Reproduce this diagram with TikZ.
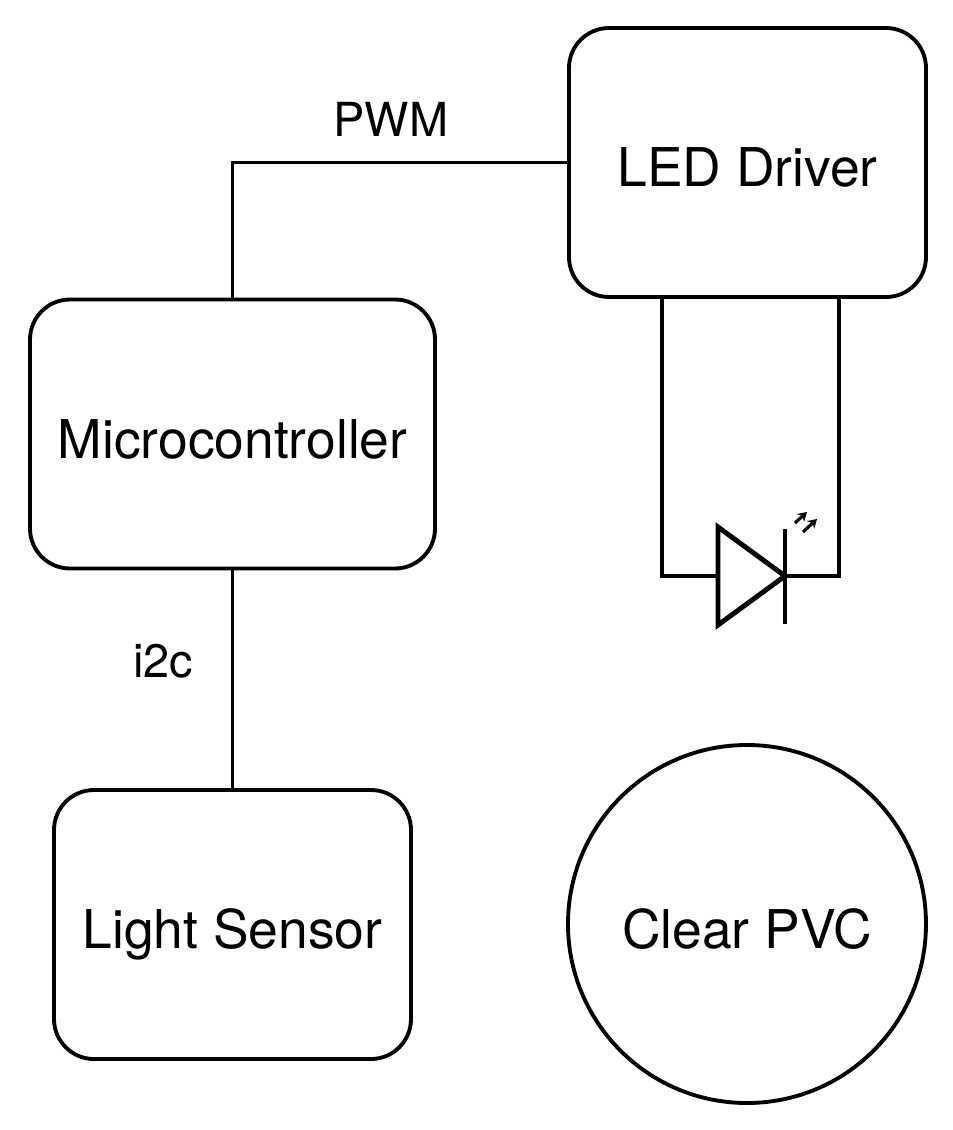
\documentclass[tikz,border=0pt]{standalone}
\usepackage{fontspec}
\setmainfont{TeX Gyre Heros}
\usepackage{tikz}
\usetikzlibrary{arrows.meta}

\begin{document}
\begin{tikzpicture}
[>=Stealth,line width=2.2pt,
block/.style={draw,rounded corners=0.8cm,minimum width=7.14cm,minimum height=5.38cm,text height=0.96cm,text depth=0pt,inner sep=0pt,font=\fontsize{30.4}{36}\selectfont},
tank/.style={draw,circle,minimum size=7.16cm,text height=0.96cm,text depth=0pt,inner sep=0pt,font=\fontsize{30.4}{36}\selectfont},
wire/.style={line width=2.2pt},
sym/.style={line width=2.8pt},
ray/.style={->,line width=1.8pt,>={Stealth[length=5pt,width=6pt]}},
tag/.style={font=\fontsize{26.7}{32}\selectfont,inner sep=0pt},]

\useasboundingbox (0,0) rectangle (19.06,-22.6);

\node (drv) at (14.95,-3.25)[block]{LED Driver};
\node (mcu) at (4.65,-8.68)[block,minimum width=8.1cm]{Microcontroller};
\node (sen) at (4.65,-18.49)[block]{Light Sensor};
\node (pvc) at (14.94,-18.48)[tank]{Clear PVC};

\node (pwm) at (7.82,-2.39)[tag]{PWM};
\node (iic) at (3.26,-13.23)[tag]{i2c};

\coordinate (an) at (14.36,-11.52);
\coordinate (ca) at (15.70,-11.52);

\draw[wire] (mcu.north) |- (drv.west);
\draw[wire] (mcu.south) -- (sen.north);
\draw[wire] ([xshift=-1.71cm]drv.south) |- (an);
\draw[wire] ([xshift=1.83cm]drv.south) |- (ca);

%LED
\draw[sym,line join=miter] (14.36,-10.54) -- (ca) -- (14.36,-12.50) -- cycle;
\draw[sym] (15.70,-10.58) -- (15.70,-12.48);
\draw[ray] (15.90,-10.46) -- (16.14,-10.24);
\draw[ray] (16.06,-10.64) -- (16.34,-10.38);

\end{tikzpicture}
\end{document}
